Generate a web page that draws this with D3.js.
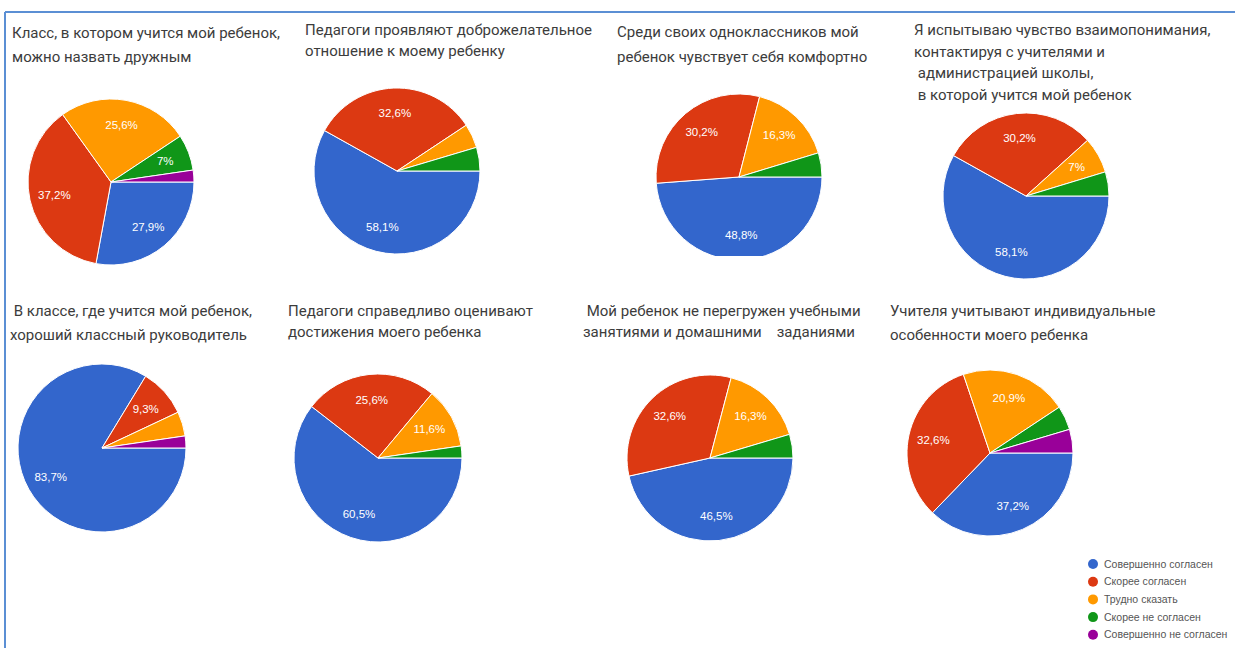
<!DOCTYPE html>
<html>
<head>
<meta charset="utf-8">
<script src="https://cdn.jsdelivr.net/npm/d3@7"></script>
<style>
  body { margin: 0; background: #fff; }
  svg { display: block; }
</style>
</head>
<body>
<div id="chart"></div>
<script>
// categories
const categories = ["Совершенно согласен", "Скорее согласен", "Трудно сказать", "Скорее не согласен", "Совершенно не согласен"];
const colors = ["#3366cc", "#dc3912", "#ff9900", "#109618", "#990099"];

// titles, one per pie
const titles = [
  ["Класс, в котором учится мой ребенок,", "можно назвать дружным"],
  ["Педагоги проявляют доброжелательное", "отношение к моему ребенку"],
  ["Среди своих одноклассников мой", "ребенок чувствует себя комфортно"],
  ["Я испытываю чувство взаимопонимания,", "контактируя с учителями и", " администрацией школы,", " в которой учится мой ребенок"],
  [" В классе, где учится мой ребенок,", "хороший классный руководитель"],
  ["Педагоги справедливо оценивают", "достижения моего ребенка"],
  [" Мой ребенок не перегружен учебными", "занятиями и домашними    заданиями"],
  ["Учителя учитывают индивидуальные", "особенности моего ребенка"]
];

// percentages per pie, in category order
const pie1 = [27.9, 37.2, 25.6, 7, 2.3];
const pie2 = [58.1, 32.6, 4.7, 4.6, 0];
const pie3 = [48.8, 30.2, 16.3, 4.7, 0];
const pie4 = [58.1, 30.2, 7, 4.7, 0];
const pie5 = [83.7, 9.3, 4.7, 0, 2.3];
const pie6 = [60.5, 25.6, 11.6, 2.3, 0];
const pie7 = [46.5, 32.6, 16.3, 4.6, 0];
const pie8 = [37.2, 32.6, 20.9, 4.7, 4.6];
const values = [pie1, pie2, pie3, pie4, pie5, pie6, pie7, pie8];

const width = 1235, height = 648;

// layout of each panel: title position, pie centre, optional bottom clip
const panels = [
  { tx: 12, ty: 38, lh: 24, cx: 111, cy: 182, r: 83 },
  { tx: 305, ty: 35, lh: 21, cx: 397, cy: 171, r: 83 },
  { tx: 617, ty: 37, lh: 25, cx: 739, cy: 177, r: 83, clip: 256 },
  { tx: 914, ty: 35, lh: 21.5, cx: 1026, cy: 196, r: 83 },
  { tx: 10, ty: 316, lh: 24, cx: 102, cy: 448, r: 84 },
  { tx: 288, ty: 316, lh: 21, cx: 378, cy: 458, r: 84 },
  { tx: 583, ty: 316, lh: 21, cx: 710, cy: 458, r: 83 },
  { tx: 890, ty: 316, lh: 24, cx: 990, cy: 453, r: 83 }
];

const svg = d3.select("#chart")
  .append("svg")
  .attr("width", width)
  .attr("height", height);

// frame lines (top and left)
svg.append("line")
  .attr("x1", 5).attr("y1", 12).attr("x2", width).attr("y2", 12)
  .attr("stroke", "#5b8fd4").attr("stroke-width", 2);
svg.append("line")
  .attr("x1", 5).attr("y1", 12).attr("x2", 5).attr("y2", height)
  .attr("stroke", "#5b8fd4").attr("stroke-width", 2);

const pie = d3.pie()
  .sort(null)
  .value(d => d)
  .startAngle(Math.PI / 2)
  .endAngle(Math.PI / 2 + 2 * Math.PI);

const fmt = v => String(v).replace(".", ",") + "%";

values.forEach(function (vals, i) {
  const p = panels[i];

  // title
  const t = svg.append("text")
    .attr("x", p.tx)
    .attr("y", p.ty)
    .attr("font-family", "Roboto, Arial, sans-serif")
    .attr("font-size", 15)
    .attr("fill", "#3c3c3c")
    .style("white-space", "pre");
  t.selectAll("tspan")
    .data(titles[i])
    .join("tspan")
    .attr("x", p.tx)
    .attr("dy", (d, j) => j === 0 ? 0 : p.lh)
    .text(d => d);

  const arc = d3.arc().innerRadius(0).outerRadius(p.r);
  const labelArc = d3.arc().innerRadius(p.r * 0.7).outerRadius(p.r * 0.7);

  const g = svg.append("g")
    .attr("transform", "translate(" + p.cx + "," + p.cy + ")");

  if (p.clip) {
    svg.append("clipPath").attr("id", "clip" + i)
      .append("rect")
      .attr("x", -p.r - 2).attr("y", -p.r - 2)
      .attr("width", 2 * p.r + 4).attr("height", p.clip - p.cy + p.r + 2);
    g.attr("clip-path", "url(#clip" + i + ")");
  }

  const slices = pie(vals).map((d, k) => Object.assign(d, { k: k }))
    .filter(d => d.value > 0);

  g.selectAll("path")
    .data(slices)
    .join("path")
    .attr("d", arc)
    .attr("fill", d => colors[d.k])
    .attr("stroke", "#fff")
    .attr("stroke-width", 1);

  g.selectAll("text")
    .data(slices.filter(d => d.value >= 5))
    .join("text")
    .attr("transform", d => "translate(" + labelArc.centroid(d) + ")")
    .attr("text-anchor", "middle")
    .attr("dy", "0.35em")
    .attr("font-family", "Arial, Liberation Sans, sans-serif")
    .attr("font-size", 11.5)
    .attr("fill", "#fff")
    .text(d => fmt(d.value));
});

// legend
const legend = svg.append("g")
  .attr("transform", "translate(1093,564)");

const item = legend.selectAll("g")
  .data(categories)
  .join("g")
  .attr("transform", (d, i) => "translate(0," + i * 17.7 + ")");

item.append("circle")
  .attr("r", 5)
  .attr("fill", (d, i) => colors[i]);

item.append("text")
  .attr("x", 11)
  .attr("dy", "0.35em")
  .attr("font-family", "Arial, Liberation Sans, sans-serif")
  .attr("font-size", 10.5)
  .attr("fill", "#555")
  .text(d => d);
</script>
</body>
</html>
